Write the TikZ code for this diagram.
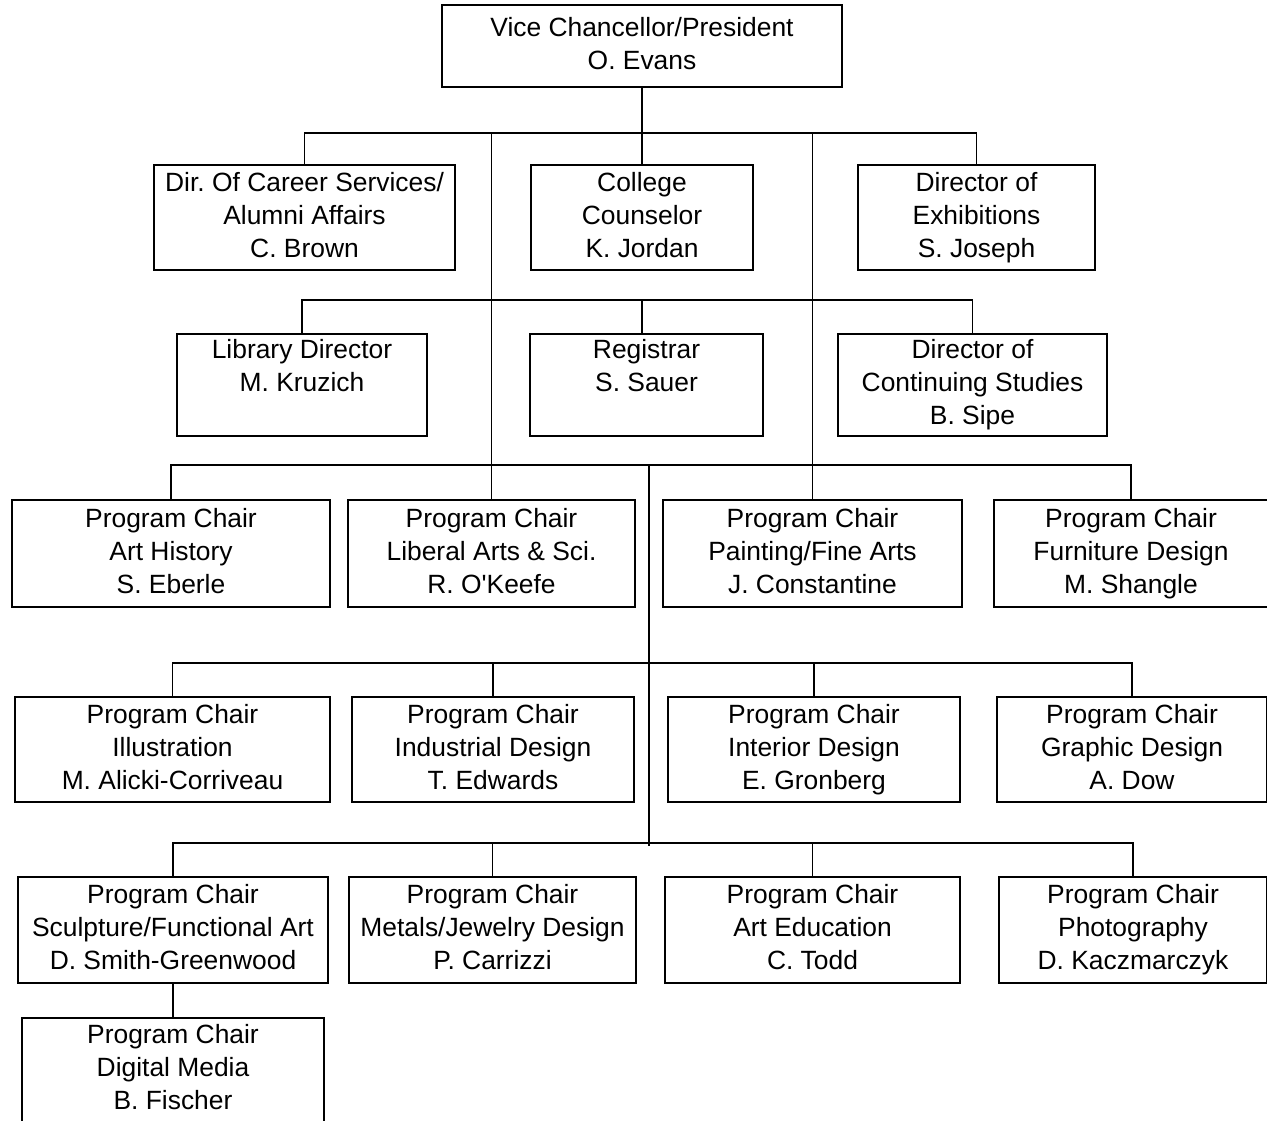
\documentclass[tikz,border=0pt]{standalone}
\usepackage{fontspec}
\setmainfont{Liberation Sans}
\usetikzlibrary{calc}

\begin{document}
\begin{tikzpicture}[x=0.5pt,y=-0.5pt,
    post/.style={draw,line width=0.9pt,align=center,inner sep=0pt,
      font=\fontsize{13.2}{16.5}\selectfont,
      execute at begin node=\vphantom{Ah},execute at end node=\vphantom{gy}},
    link/.style={line width=0.9pt,black}]
    \useasboundingbox (0,0) rectangle (1267,1120);

    % bus levels
    \coordinate (busA) at (642,133);
    \coordinate (busB) at (642,300);
    \coordinate (busC) at (649,465);
    \coordinate (busD) at (649,663);
    \coordinate (busE) at (649,843);

    \node[post,minimum width=200pt,minimum height=41pt] (vc) at (642,46) {Vice Chancellor/President\\O. Evans};

    \node[post,minimum width=150.5pt,minimum height=52.5pt] (career) at (304.5,217.5) {Dir.\ Of Career Services/\\Alumni Affairs\\C. Brown};
    \node[post,minimum width=111pt,minimum height=52.5pt] (counsel) at (642,217.5) {College\\Counselor\\K. Jordan};
    \node[post,minimum width=118.5pt,minimum height=52.5pt] (exhib) at (976.5,217.5) {Director of\\Exhibitions\\S. Joseph};

    \node[post,minimum width=125pt,minimum height=51pt] (library) at (302,385) {Library Director\\M. Kruzich\\\mbox{}};
    \node[post,minimum width=116.5pt,minimum height=51pt] (registrar) at (646.5,385) {Registrar\\S. Sauer\\\mbox{}};
    \node[post,minimum width=134.5pt,minimum height=51pt] (contin) at (972.5,385) {Director of\\Continuing Studies\\B. Sipe};

    \node[post,minimum width=159pt,minimum height=53.5pt] (arthist) at (171,553.5) {Program Chair\\Art History\\S. Eberle};
    \node[post,minimum width=143.5pt,minimum height=53.5pt] (liberal) at (491.5,553.5) {Program Chair\\Liberal Arts \& Sci.\\R. O\textquotesingle Keefe};
    \node[post,minimum width=149.5pt,minimum height=53.5pt] (painting) at (812.5,553.5) {Program Chair\\Painting/Fine Arts\\J. Constantine};
    \node[post,minimum width=137pt,minimum height=53.5pt] (furniture) at (1131,553.5) {Program Chair\\Furniture Design\\M. Shangle};

    \node[post,minimum width=157.5pt,minimum height=52.5pt] (illus) at (172.5,749.5) {Program Chair\\Illustration\\M. Alicki-Corriveau};
    \node[post,minimum width=141pt,minimum height=52.5pt] (industrial) at (493,749.5) {Program Chair\\Industrial Design\\T. Edwards};
    \node[post,minimum width=146pt,minimum height=52.5pt] (interior) at (814,749.5) {Program Chair\\Interior Design\\E. Gronberg};
    \node[post,minimum width=135pt,minimum height=52.5pt] (graphic) at (1132,749.5) {Program Chair\\Graphic Design\\A. Dow};

    \node[post,minimum width=155pt,minimum height=53pt] (sculpt) at (173,930) {Program Chair\\Sculpture/Functional Art\\D. Smith-Greenwood};
    \node[post,minimum width=143.5pt,minimum height=53pt] (metals) at (492.5,930) {Program Chair\\Metals/Jewelry Design\\P. Carrizzi};
    \node[post,minimum width=147.5pt,minimum height=53pt] (arted) at (812.5,930) {Program Chair\\Art Education\\C. Todd};
    \node[post,minimum width=134pt,minimum height=53pt] (photo) at (1133,930) {Program Chair\\Photography\\D. Kaczmarczyk};

    \node[post,minimum width=151pt,minimum height=52pt] (digital) at (173,1070) {Program Chair\\Digital Media\\B. Fischer};

    % reporting lines
    \draw[link] (vc.south) -- (counsel.north);
    \draw[link] (career.north) |- (busA) -| (exhib.north);
    \draw[link] (liberal.north) -- (liberal.north |- busA);
    \draw[link] (painting.north) -- (painting.north |- busA);

    \draw[link] (library.north) |- (busB) -| (contin.north);
    \draw[link] (registrar.north -| busB) -- (busB);

    \draw[link] (arthist.north) |- (busC) -| (furniture.north);
    \draw[link] (busC) -- ($(busE)+(0,3)$);

    \draw[link] (illus.north) |- (busD) -| (graphic.north);
    \draw[link] (industrial.north) -- (industrial.north |- busD);
    \draw[link] (interior.north) -- (interior.north |- busD);

    \draw[link] (sculpt.north) |- (busE) -| (photo.north);
    \draw[link] (metals.north) -- (metals.north |- busE);
    \draw[link] (arted.north) -- (arted.north |- busE);

    \draw[link] (sculpt.south) -- (digital.north);
\end{tikzpicture}
\end{document}
